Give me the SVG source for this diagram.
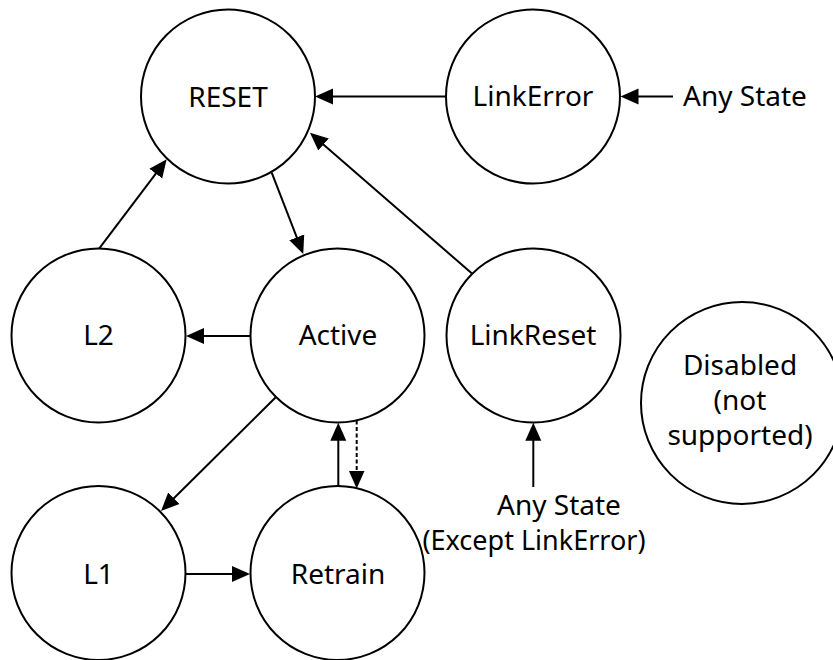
<svg xmlns="http://www.w3.org/2000/svg" width="833" height="660" viewBox="0 0 833 660">
  <style>
    .state { fill: #ffffff; stroke: #000000; stroke-width: 2; }
    .label { font-family: "Noto Sans", "Open Sans", "DejaVu Sans", sans-serif; font-size: 28px; fill: #000000; text-anchor: middle; }
    .note { font-family: "Noto Sans", "Open Sans", "DejaVu Sans", sans-serif; font-size: 28px; fill: #000000; }
    .edge { stroke: #000000; stroke-width: 2; fill: none; marker-end: url(#head); }
    .dashed { stroke-dasharray: 4 2.5; }
  </style>
  <defs>
    <!-- filled arrowhead; origin sits at the base so the line stops under it -->
    <marker id="head" markerUnits="userSpaceOnUse" markerWidth="20" markerHeight="18" viewBox="-1 -9 20 18" refX="0" refY="0" orient="auto">
      <path d="M-1,-8 L17,0 L-1,8 Z" fill="#000000"/>
    </marker>
  </defs>
  <rect width="833" height="660" fill="#ffffff"/>

  <g id="connectors">
    <!-- LinkError -> RESET -->
    <line class="edge" x1="446" y1="96.5" x2="332" y2="96.5"/>
    <!-- Any State -> LinkError -->
    <line class="edge" x1="673" y1="96.5" x2="637.5" y2="96.5"/>
    <!-- L2 -> RESET -->
    <line class="edge" x1="99.3" y1="248.3" x2="156.4" y2="172.8"/>
    <!-- RESET -> Active -->
    <line class="edge" x1="271.7" y1="172.7" x2="297.1" y2="238.2"/>
    <!-- LinkReset -> RESET -->
    <line class="edge" x1="471.7" y1="273.3" x2="322.8" y2="143.9"/>
    <!-- Active -> L2 -->
    <line class="edge" x1="250.5" y1="336" x2="203" y2="336"/>
    <!-- Active -> L1 -->
    <line class="edge" x1="275.5" y1="397.5" x2="173.1" y2="499"/>
    <!-- L1 -> Retrain -->
    <line class="edge" x1="185" y1="574" x2="233" y2="574"/>
    <!-- Retrain -> Active -->
    <line class="edge" x1="338.3" y1="486.5" x2="338.3" y2="439.7"/>
    <!-- Active -> Retrain (dashed) -->
    <line class="edge dashed" x1="356.7" y1="420.4" x2="356.7" y2="471.5"/>
    <!-- Any State (Except LinkError) -> LinkReset -->
    <line class="edge" x1="533.3" y1="487" x2="533.3" y2="439.7"/>
  </g>

  <g id="reset">
    <circle class="state" cx="228" cy="96.5" r="87"/>
    <text class="label" x="228" y="106.5">RESET</text>
  </g>
  <g id="linkerror">
    <circle class="state" cx="533" cy="96.5" r="87"/>
    <text class="label" x="533" y="106">LinkError</text>
  </g>
  <g id="l2">
    <circle class="state" cx="98.5" cy="335.5" r="87"/>
    <text class="label" x="98.5" y="345">L2</text>
  </g>
  <g id="active">
    <circle class="state" cx="337.5" cy="335.5" r="87"/>
    <text class="label" x="338" y="345">Active</text>
  </g>
  <g id="linkreset">
    <circle class="state" cx="533.5" cy="335.5" r="87"/>
    <text class="label" x="533" y="345">LinkReset</text>
  </g>
  <g id="disabled">
    <circle class="state" cx="742" cy="403" r="101"/>
    <text class="label" x="740" y="374.5">Disabled</text>
    <text class="label" x="740" y="409.5">(not</text>
    <text class="label" x="740" y="444.5">supported)</text>
  </g>
  <g id="l1">
    <circle class="state" cx="98.5" cy="573" r="87"/>
    <text class="label" x="98.5" y="583.5">L1</text>
  </g>
  <g id="retrain">
    <circle class="state" cx="337.5" cy="573" r="87"/>
    <text class="label" x="338" y="583.5">Retrain</text>
  </g>

  <g id="any-state-labels">
    <text class="note" x="683" y="106">Any State</text>
    <!-- two-line source label under LinkReset -->
    <text class="note">
      <tspan x="497" y="514.5">Any State</tspan>
      <tspan x="422.5" y="549.5" font-size="27">(Except LinkError)</tspan>
    </text>
  </g>
</svg>
